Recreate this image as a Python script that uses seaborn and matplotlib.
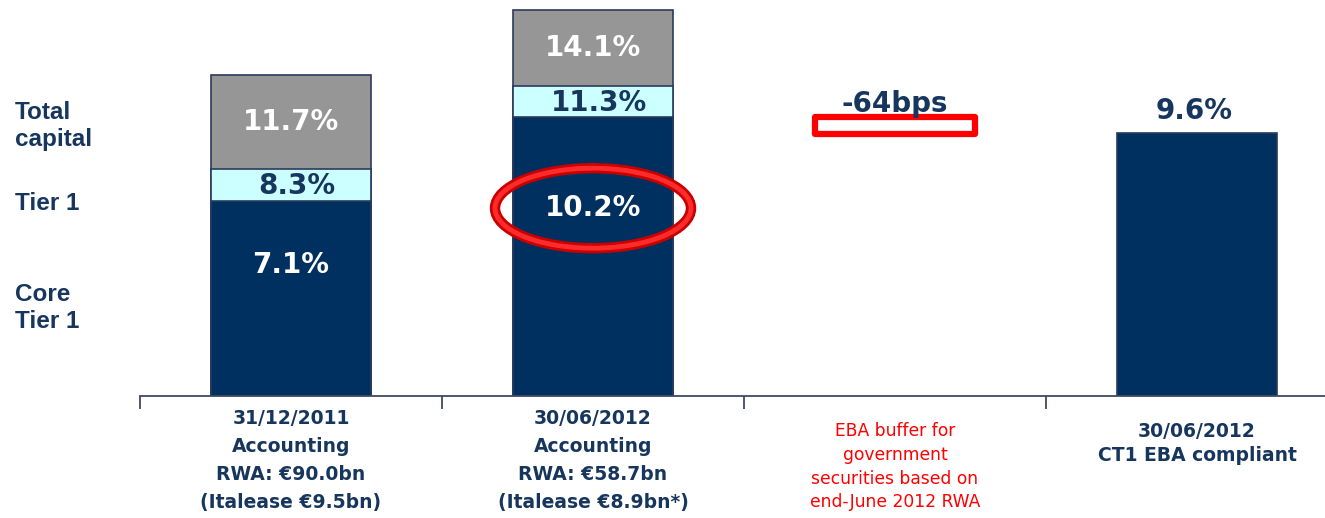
import matplotlib
matplotlib.use("Agg")
import matplotlib.pyplot as plt
from matplotlib.patches import Rectangle, Ellipse
import seaborn as sns
import pandas as pd
import numpy as np

categories = ["c1", "c2", "c3", "c4"]
core_tier1 = [7.1, 10.2, np.nan, 9.6]
tier1 = [8.3, 11.3, np.nan, np.nan]
total_capital = [11.7, 14.1, np.nan, np.nan]
buffer_bps = -64
tick_labels = [
    "31/12/2011\nAccounting\nRWA: €90.0bn\n(Italease €9.5bn)",
    "30/06/2012\nAccounting\nRWA: €58.7bn\n(Italease €8.9bn*)",
    "EBA buffer for\ngovernment\nsecurities based on\nend-June 2012 RWA",
    "30/06/2012\nCT1 EBA compliant",
]
core_labels = ["7.1%", "10.2%", None, "9.6%"]
tier1_labels = ["8.3%", "11.3%", None, None]
total_labels = ["11.7%", "14.1%", None, None]
buffer_label = "-64bps"
side_labels = ["Total\ncapital", "Tier 1", "Core\nTier 1"]

NAVY = "#00305F"
TEXT = "#17365D"
CYAN = "#CCFFFF"
GRAY = "#969696"
EDGE = "#2B3A5E"
RED = "#FF0000"

sns.set_theme(style="white")
plt.rcParams["font.family"] = ["DejaVu Sans"]

df = pd.DataFrame({"cat": categories, "core": core_tier1,
                   "tier1": tier1, "total": total_capital})

fig = plt.figure(figsize=(13.25, 5.18), dpi=100)
ax = fig.add_axes([140 / 1325, 1 - 396 / 518, 1 - 140 / 1325, 396 / 518])

W = 0.53
for col, color in [("total", GRAY), ("tier1", CYAN), ("core", NAVY)]:
    sns.barplot(data=df, x="cat", y=col, order=categories, color=color,
                width=W, edgecolor=EDGE, linewidth=1.2, saturation=1,
                ax=ax, errorbar=None)

ax.set_xlim(-0.5, -0.5 + 1185 / 302)
ax.set_ylim(0, 396 / 27.4)
ax.set_xlabel("")
ax.set_ylabel("")
ax.set_yticks([])
for s in ["top", "right", "left"]:
    ax.spines[s].set_visible(False)
ax.spines["bottom"].set_color("#3F4A60")
ax.spines["bottom"].set_linewidth(1.3)

ax.set_xticks(range(len(categories)))
ax.set_xticklabels([""] * len(categories))
ax.set_xticks([-0.5, 0.5, 1.5, 2.5], minor=True)
ax.tick_params(axis="x", which="major", length=0)
ax.tick_params(axis="x", which="minor", direction="out", length=9,
               width=1.3, color="#3F4A60", bottom=True)

# category labels
xt = ax.get_xaxis_transform()
for i, lab in enumerate(tick_labels):
    if i < 2:
        ax.text(i, -0.032, lab, transform=xt, ha="center", va="top",
                fontsize=13.5, fontweight="bold", color=TEXT, linespacing=1.6)
    elif i == 2:
        ax.text(i, -0.065, lab, transform=xt, ha="center", va="top",
                fontsize=12.3, color=RED, linespacing=1.42)
    else:
        ax.text(i, -0.065, lab, transform=xt, ha="center", va="top",
                fontsize=13.5, fontweight="bold", color=TEXT, linespacing=1.38)

# value labels
FS = 20
for i in range(len(categories)):
    if total_labels[i]:
        ax.text(i, (tier1[i] + total_capital[i]) / 2, total_labels[i],
                ha="center", va="center", fontsize=FS, fontweight="bold",
                color="white")
    if tier1_labels[i]:
        ax.text(i + 0.02, (core_tier1[i] + tier1[i]) / 2 - 0.05, tier1_labels[i],
                ha="center", va="center", fontsize=FS, fontweight="bold",
                color=TEXT)
    if core_labels[i]:
        if i == 3:
            ax.text(i - 0.01, core_tier1[i] + 0.8, core_labels[i], ha="center",
                    va="center", fontsize=FS, fontweight="bold", color=TEXT)
        else:
            ax.text(i, core_tier1[i] * 0.672, core_labels[i], ha="center",
                    va="center", fontsize=FS, fontweight="bold", color="white")

# EBA buffer rectangle
top = core_tier1[1]
bottom = core_tier1[1] + buffer_bps / 100
ax.add_patch(Rectangle((2 - W / 2, bottom), W, top - bottom, fill=False,
                       edgecolor=RED, linewidth=4.5, joinstyle="round"))
ax.text(2, top + 0.45, buffer_label, ha="center", va="center", fontsize=FS,
        fontweight="bold", color=TEXT)

# highlight ellipse around 30/06/2012 core tier 1
ec = (1, core_tier1[1] * 0.672)
ax.add_patch(Ellipse(ec, 196 / 302, 80 / 27.4, fill=False,
                     edgecolor="#C80000", linewidth=7.5))
ax.add_patch(Ellipse(ec, 196 / 302, 80 / 27.4, fill=False,
                     edgecolor="#FF2A2A", linewidth=3.5))

# side labels
for lab, y in zip(side_labels, [126, 203, 308]):
    fig.text(15 / 1325, 1 - y / 518, lab, ha="left", va="center",
             fontsize=17.5, fontweight="bold", color=TEXT,
             family=["Liberation Sans", "DejaVu Sans"], linespacing=1.25)

fig.savefig("out.png", dpi=100)
